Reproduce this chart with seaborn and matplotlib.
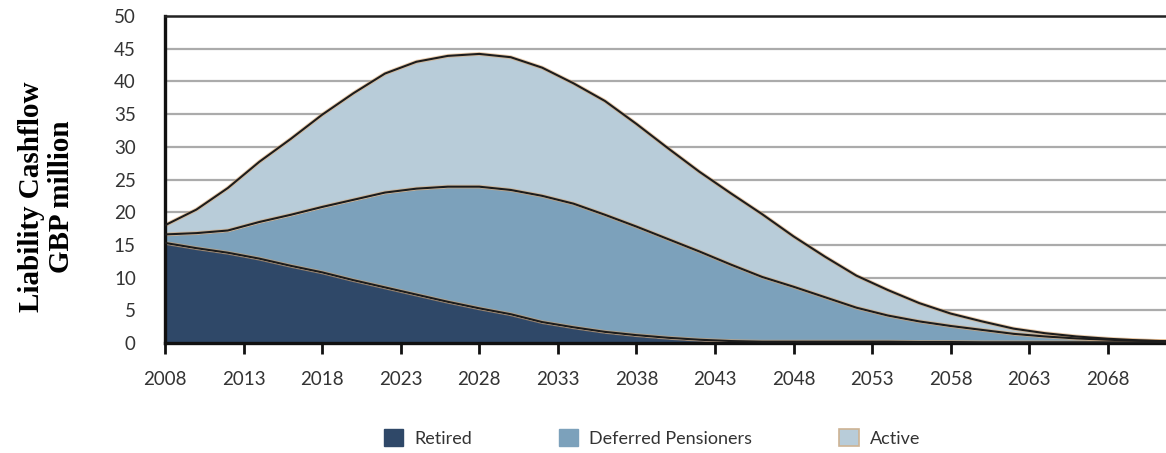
import matplotlib
matplotlib.use("Agg")
import matplotlib.pyplot as plt
from matplotlib.patches import Patch
import numpy as np
import pandas as pd
import seaborn as sns

# Projection years (every two years)
years = list(range(2008, 2073, 2))

# Liability cashflow by member group, GBP million
retired = [15.3, 14.5, 13.8, 12.9, 11.8, 10.8, 9.6, 8.5, 7.4, 6.3,
           5.3, 4.4, 3.2, 2.4, 1.7, 1.2, 0.8, 0.5, 0.3, 0.2,
           0.2, 0.2, 0.2, 0.2, 0.15, 0.15, 0.1, 0.1, 0.1, 0.1,
           0.1, 0.1, 0.1]
deferred = [1.3, 2.3, 3.4, 5.6, 7.8, 10.0, 12.3, 14.5, 16.2, 17.6,
            18.6, 19.0, 19.3, 18.9, 17.9, 16.6, 15.1, 13.5, 11.7, 9.9,
            8.4, 6.8, 5.2, 4.0, 3.15, 2.45, 1.9, 1.3, 0.9, 0.6,
            0.4, 0.25, 0.15]
active = [1.4, 3.6, 6.5, 9.2, 11.6, 14.1, 16.3, 18.2, 19.4, 20.0,
          20.3, 20.3, 19.6, 18.4, 17.4, 15.7, 13.9, 12.2, 10.9, 9.6,
          7.7, 6.2, 4.9, 3.9, 2.8, 1.9, 1.3, 0.8, 0.5, 0.3,
          0.15, 0.05, 0.0]

series_names = ["Retired", "Deferred Pensioners", "Active"]
colors = ["#2f4868", "#7ca1bb", "#b8ccd9"]
y_ticks = list(range(0, 51, 5))
x_ticks = list(range(2008, 2069, 5))

sns.set_theme(style="white")
plt.rcParams["font.family"] = ["Lato", "DejaVu Sans"]

df = pd.DataFrame({"year": years, "Retired": retired,
                   "Deferred Pensioners": deferred, "Active": active})
cum = df[series_names].cumsum(axis=1)
cum["year"] = df["year"]

fig = plt.figure(figsize=(11.66, 4.53), dpi=100)
ax = fig.add_axes([0.1415, 0.2428, 0.8585, 0.7219])

# horizontal grid
for yv in y_ticks[1:-1]:
    ax.axhline(yv, color="#ababab", lw=1.6, zorder=0)

ax.stackplot(df["year"], df["Retired"], df["Deferred Pensioners"], df["Active"],
             colors=colors, zorder=1)

# outlines of each stacked layer
for name in series_names:
    sns.lineplot(data=cum, x="year", y=name, ax=ax, color="#d7a26a",
                 lw=2.8, alpha=0.55, zorder=2)
    sns.lineplot(data=cum, x="year", y=name, ax=ax, color="#1c1c1c",
                 lw=1.5, zorder=3)

ax.set_xlim(2008, 2071.7)
ax.set_ylim(0, 50)
ax.set_xticks(x_ticks)
ax.set_xticklabels([str(v) for v in x_ticks])
ax.set_yticks(y_ticks)
ax.set_yticklabels([str(v) for v in y_ticks])
ax.set_xlabel("")
ax.set_ylabel("")

ax.tick_params(axis="x", bottom=True, direction="out", length=8, width=2,
               color="#111111", pad=12, labelsize=13.5, labelcolor="#333333")
ax.tick_params(axis="y", left=False, pad=15, labelsize=13.5,
               labelcolor="#333333")

for side in ["left", "bottom"]:
    ax.spines[side].set_color("#111111")
    ax.spines[side].set_linewidth(2.4)
ax.spines["top"].set_color("#222222")
ax.spines["top"].set_linewidth(1.8)
ax.spines["right"].set_visible(False)

fig.text(0.040, 0.565, "Liability Cashflow\nGBP million", rotation=90,
         ha="center", va="center", multialignment="center",
         fontsize=21, fontweight="bold", family="Liberation Serif",
         color="#000000", linespacing=1.12)

handles = [Patch(facecolor=colors[0], edgecolor=colors[0]),
           Patch(facecolor=colors[1], edgecolor=colors[1]),
           Patch(facecolor=colors[2], edgecolor="#cdb394", lw=1.2)]
fig.legend(handles, series_names, loc="center", bbox_to_anchor=(0.559, 0.033),
           ncol=3, frameon=False, fontsize=13, handlelength=1.1,
           handleheight=1.1, handletextpad=0.6, columnspacing=4.8,
           labelcolor="#333333")

fig.savefig("out.png", dpi=100)
